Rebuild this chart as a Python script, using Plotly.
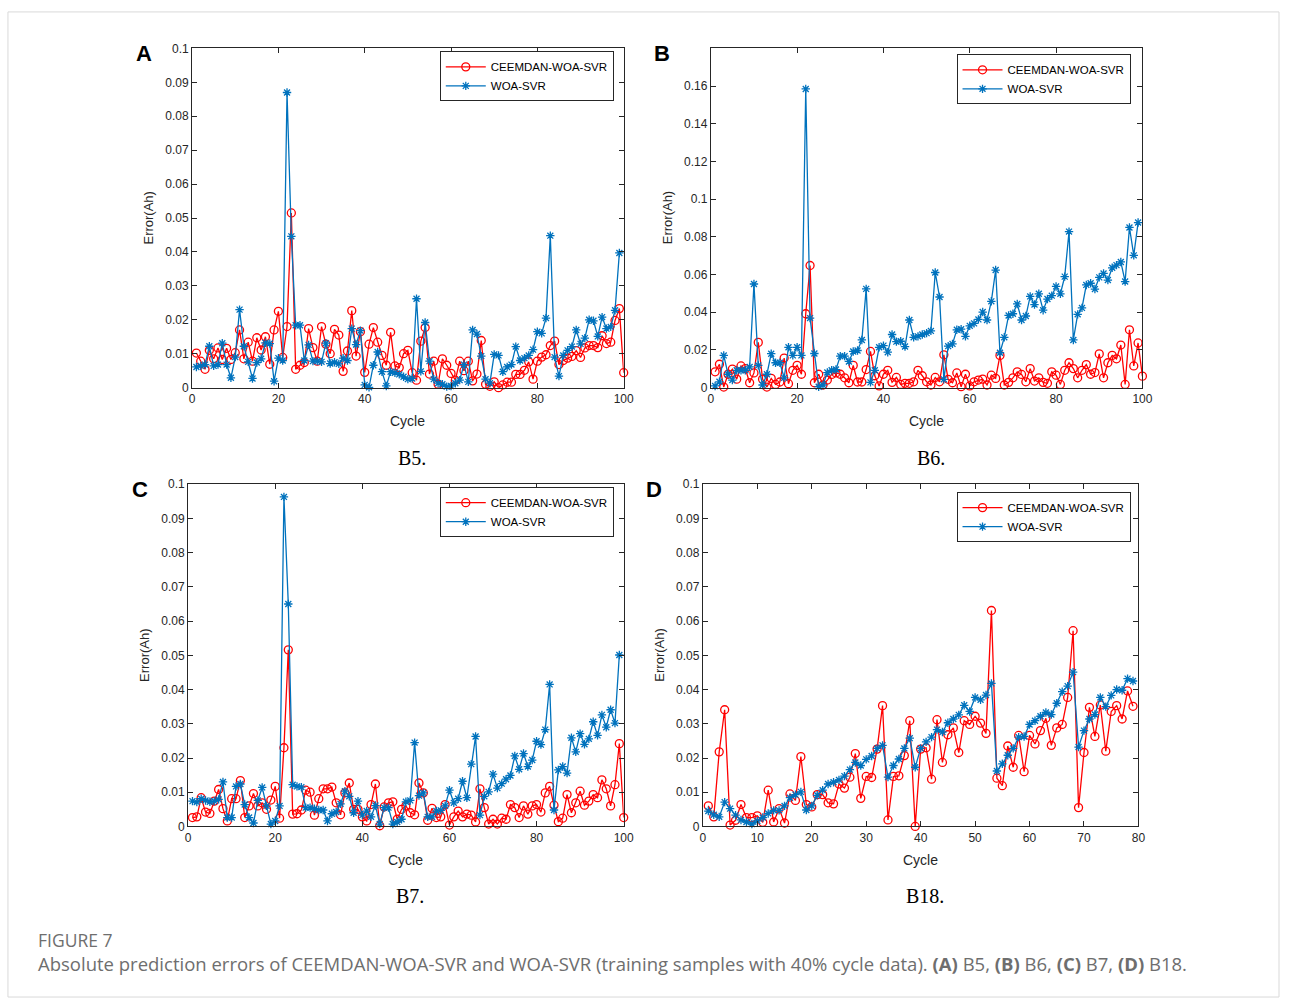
import plotly.graph_objects as go

# ---- B5 ----
b5_ceemdan = [0.0102, 0.0078, 0.0054, 0.0110, 0.0085, 0.0117, 0.0083, 0.0116, 0.0083, 0.0103,
              0.0170, 0.0085, 0.0134, 0.0078, 0.0147, 0.0111, 0.0150, 0.0069, 0.0170, 0.0225,
              0.0089, 0.0180, 0.0515, 0.0054, 0.0066, 0.0074, 0.0174, 0.0118, 0.0078, 0.0180,
              0.0128, 0.0100, 0.0172, 0.0155, 0.0048, 0.0108, 0.0227, 0.0093, 0.0165, 0.0045,
              0.0128, 0.0177, 0.0134, 0.0095, 0.0066, 0.0163, 0.0064, 0.0059, 0.0100, 0.0110,
              0.0044, 0.0022, 0.0137, 0.0177, 0.0040, 0.0078, 0.0010, 0.0085, 0.0066, 0.0042,
              0.0022, 0.0078, 0.0050, 0.0078, 0.0020, 0.0040, 0.0139, 0.0010, 0.0004, 0.0017,
              0.0000, 0.0008, 0.0016, 0.0016, 0.0039, 0.0039, 0.0051, 0.0076, 0.0025, 0.0078,
              0.0090, 0.0097, 0.0124, 0.0137, 0.0068, 0.0080, 0.0087, 0.0092, 0.0109, 0.0089,
              0.0117, 0.0124, 0.0124, 0.0118, 0.0153, 0.0130, 0.0134, 0.0198, 0.0233, 0.0044]
b5_woa = [0.0061, 0.0064, 0.0068, 0.0122, 0.0064, 0.0068, 0.0131, 0.0068, 0.0029, 0.0090,
          0.0230, 0.0122, 0.0076, 0.0027, 0.0074, 0.0085, 0.0132, 0.0130, 0.0019, 0.0087,
          0.0080, 0.0870, 0.0446, 0.0184, 0.0184, 0.0080, 0.0126, 0.0078, 0.0078, 0.0076,
          0.0131, 0.0071, 0.0075, 0.0070, 0.0087, 0.0080, 0.0174, 0.0127, 0.0168, 0.0008,
          0.0001, 0.0066, 0.0105, 0.0047, 0.0005, 0.0047, 0.0044, 0.0039, 0.0032, 0.0025,
          0.0027, 0.0262, 0.0048, 0.0192, 0.0078, 0.0025, 0.0013, 0.0010, 0.0003, 0.0005,
          0.0013, 0.0022, 0.0068, 0.0017, 0.0170, 0.0158, 0.0093, 0.0025, 0.0013, 0.0098,
          0.0095, 0.0047, 0.0061, 0.0068, 0.0121, 0.0080, 0.0087, 0.0095, 0.0112, 0.0165,
          0.0160, 0.0205, 0.0448, 0.0090, 0.0034, 0.0095, 0.0110, 0.0121, 0.0170, 0.0129,
          0.0146, 0.0200, 0.0197, 0.0151, 0.0208, 0.0174, 0.0179, 0.0228, 0.0397]

# ---- B6 ----
b6_ceemdan = [0.0084, 0.0124, 0.0003, 0.0071, 0.0098, 0.0045, 0.0115, 0.0101, 0.0026, 0.0078,
              0.0240, 0.0045, 0.0003, 0.0049, 0.0017, 0.0030, 0.0157, 0.0021, 0.0092, 0.0118,
              0.0071, 0.0392, 0.0648, 0.0026, 0.0071, 0.0014, 0.0040, 0.0070, 0.0078, 0.0071,
              0.0052, 0.0026, 0.0118, 0.0030, 0.0030, 0.0096, 0.0192, 0.0063, 0.0009, 0.0071,
              0.0092, 0.0028, 0.0054, 0.0017, 0.0023, 0.0023, 0.0031, 0.0092, 0.0063, 0.0031,
              0.0014, 0.0054, 0.0031, 0.0174, 0.0044, 0.0026, 0.0078, 0.0005, 0.0071, 0.0009,
              0.0031, 0.0040, 0.0045, 0.0014, 0.0066, 0.0049, 0.0171, 0.0014, 0.0028, 0.0052,
              0.0084, 0.0070, 0.0031, 0.0101, 0.0035, 0.0052, 0.0028, 0.0023, 0.0084, 0.0066,
              0.0017, 0.0092, 0.0132, 0.0101, 0.0052, 0.0092, 0.0122, 0.0071, 0.0080, 0.0179,
              0.0052, 0.0132, 0.0171, 0.0153, 0.0226, 0.0017, 0.0307, 0.0115, 0.0237, 0.0061]
b6_woa = [0.0009, 0.0031, 0.0171, 0.0071, 0.0040, 0.0092, 0.0092, 0.0092, 0.0110, 0.0550,
          0.0118, 0.0014, 0.0071, 0.0180, 0.0132, 0.0132, 0.0052, 0.0214, 0.0171, 0.0214,
          0.0171, 0.1585, 0.0369, 0.0181, 0.0005, 0.0014, 0.0080, 0.0092, 0.0096, 0.0167,
          0.0167, 0.0139, 0.0192, 0.0197, 0.0253, 0.0524, 0.0028, 0.0092, 0.0214, 0.0223,
          0.0188, 0.0282, 0.0244, 0.0246, 0.0218, 0.0359, 0.0267, 0.0272, 0.0282, 0.0289,
          0.0301, 0.0611, 0.0481, 0.0044, 0.0220, 0.0232, 0.0307, 0.0310, 0.0272, 0.0328,
          0.0341, 0.0362, 0.0401, 0.0359, 0.0458, 0.0624, 0.0185, 0.0267, 0.0383, 0.0392,
          0.0444, 0.0359, 0.0380, 0.0484, 0.0441, 0.0498, 0.0411, 0.0470, 0.0488, 0.0537,
          0.0498, 0.0589, 0.0828, 0.0253, 0.0389, 0.0423, 0.0545, 0.0554, 0.0523, 0.0585,
          0.0606, 0.0571, 0.0636, 0.0650, 0.0667, 0.0563, 0.0850, 0.0702, 0.0876]

# ---- B7 ----
b7_ceemdan = [0.0026, 0.0028, 0.0084, 0.0042, 0.0038, 0.0074, 0.0108, 0.0052, 0.0016, 0.0081,
              0.0081, 0.0134, 0.0026, 0.0060, 0.0096, 0.0060, 0.0069, 0.0050, 0.0077, 0.0117,
              0.0024, 0.0230, 0.0516, 0.0036, 0.0037, 0.0048, 0.0106, 0.0100, 0.0033, 0.0081,
              0.0110, 0.0110, 0.0115, 0.0069, 0.0034, 0.0098, 0.0127, 0.0050, 0.0050, 0.0028,
              0.0016, 0.0064, 0.0124, 0.0002, 0.0057, 0.0069, 0.0072, 0.0021, 0.0050, 0.0060,
              0.0040, 0.0034, 0.0127, 0.0098, 0.0018, 0.0053, 0.0026, 0.0028, 0.0064, 0.0004,
              0.0028, 0.0045, 0.0028, 0.0036, 0.0033, 0.0013, 0.0110, 0.0055, 0.0007, 0.0021,
              0.0007, 0.0024, 0.0021, 0.0064, 0.0055, 0.0026, 0.0060, 0.0036, 0.0060, 0.0064,
              0.0042, 0.0098, 0.0117, 0.0062, 0.0014, 0.0024, 0.0093, 0.0040, 0.0069, 0.0103,
              0.0062, 0.0074, 0.0093, 0.0084, 0.0136, 0.0110, 0.0060, 0.0122, 0.0242, 0.0026]
b7_woa = [0.0074, 0.0071, 0.0081, 0.0076, 0.0072, 0.0074, 0.0079, 0.0130, 0.0026, 0.0026,
          0.0117, 0.0124, 0.0064, 0.0026, 0.0010, 0.0076, 0.0114, 0.0060, 0.0007, 0.0016,
          0.0060, 0.0963, 0.0650, 0.0122, 0.0117, 0.0115, 0.0055, 0.0055, 0.0052, 0.0048,
          0.0048, 0.0016, 0.0037, 0.0042, 0.0066, 0.0103, 0.0088, 0.0040, 0.0074, 0.0033,
          0.0045, 0.0028, 0.0061, 0.0007, 0.0055, 0.0055, 0.0007, 0.0013, 0.0021, 0.0072,
          0.0076, 0.0245, 0.0090, 0.0098, 0.0028, 0.0028, 0.0045, 0.0047, 0.0060, 0.0106,
          0.0069, 0.0081, 0.0132, 0.0084, 0.0182, 0.0263, 0.0033, 0.0088, 0.0101, 0.0153,
          0.0112, 0.0125, 0.0138, 0.0149, 0.0206, 0.0167, 0.0213, 0.0175, 0.0194, 0.0249,
          0.0239, 0.0283, 0.0415, 0.0048, 0.0165, 0.0175, 0.0156, 0.0259, 0.0218, 0.0271,
          0.0240, 0.0256, 0.0306, 0.0266, 0.0326, 0.0290, 0.0341, 0.0302, 0.0501]

# ---- B18 ----
b18_ceemdan = [0.0060, 0.0028, 0.0218, 0.0341, 0.0004, 0.0018, 0.0064, 0.0026, 0.0026, 0.0031,
               0.0012, 0.0106, 0.0013, 0.0052, 0.0010, 0.0095, 0.0076, 0.0204, 0.0064, 0.0057,
               0.0093, 0.0093, 0.0069, 0.0066, 0.0124, 0.0112, 0.0144, 0.0213, 0.0082, 0.0146,
               0.0143, 0.0226, 0.0353, 0.0019, 0.0146, 0.0148, 0.0207, 0.0309, 0.0000, 0.0226,
               0.0230, 0.0138, 0.0312, 0.0187, 0.0268, 0.0288, 0.0216, 0.0309, 0.0298, 0.0322,
               0.0302, 0.0272, 0.0631, 0.0141, 0.0119, 0.0235, 0.0173, 0.0266, 0.0160, 0.0266,
               0.0241, 0.0280, 0.0316, 0.0237, 0.0288, 0.0298, 0.0377, 0.0572, 0.0055, 0.0216,
               0.0348, 0.0263, 0.0355, 0.0220, 0.0336, 0.0353, 0.0314, 0.0396, 0.0351]
b18_woa = [0.0045, 0.0034, 0.0028, 0.0071, 0.0052, 0.0033, 0.0019, 0.0013, 0.0007, 0.0016,
           0.0026, 0.0038, 0.0047, 0.0047, 0.0060, 0.0084, 0.0093, 0.0101, 0.0048, 0.0060,
           0.0091, 0.0106, 0.0124, 0.0129, 0.0136, 0.0147, 0.0166, 0.0187, 0.0178, 0.0196,
           0.0206, 0.0228, 0.0237, 0.0144, 0.0178, 0.0197, 0.0228, 0.0258, 0.0173, 0.0228,
           0.0247, 0.0261, 0.0283, 0.0276, 0.0303, 0.0314, 0.0326, 0.0354, 0.0336, 0.0377,
           0.0370, 0.0384, 0.0418, 0.0162, 0.0183, 0.0208, 0.0228, 0.0261, 0.0263, 0.0298,
           0.0309, 0.0322, 0.0333, 0.0327, 0.0360, 0.0394, 0.0410, 0.0451, 0.0232, 0.0280,
           0.0314, 0.0327, 0.0377, 0.0350, 0.0383, 0.0400, 0.0398, 0.0432, 0.0425]

series_names = ["CEEMDAN-WOA-SVR", "WOA-SVR"]
panel_letters = ["A", "B", "C", "D"]
panel_captions = ["B5.", "B6.", "B7.", "B18."]

RED = "#FF0000"
BLUE = "#0072BD"
AX = "#262626"
SANS = "Liberation Sans, Arial, sans-serif"
SERIF = "Liberation Serif, Times New Roman, serif"
CAPTION_FONT = "Open Sans, sans-serif"

W, H = 1290, 1006


def px(x):
    return x / W


def py(y):
    return 1 - y / H


# plot boxes in pixels: (left, top, right, bottom)
boxes = [(191, 42, 627, 386), (715, 42, 1151, 386), (187, 484, 627, 831), (707, 484, 1147, 831)]
xmax = [100, 100, 100, 80]
xstep = [20, 20, 20, 10]
ymax = [0.1, 0.18, 0.1, 0.1]
yticks = [
    [round(0.01 * i, 2) for i in range(11)],
    [round(0.02 * i, 2) for i in range(9)],
    [round(0.01 * i, 2) for i in range(11)],
    [round(0.01 * i, 2) for i in range(11)],
]
data = [(b5_ceemdan, b5_woa), (b6_ceemdan, b6_woa), (b7_ceemdan, b7_woa), (b18_ceemdan, b18_woa)]
# legend anchors (right edge, top edge) in pixels
legend_boxes = [(617, 45), (1139, 48), (617, 487), (1139, 492)]

fig = go.Figure()
layout = dict(
    width=W, height=H, margin=dict(l=0, r=0, t=0, b=0),
    paper_bgcolor="white", plot_bgcolor="white",
    font=dict(family=SANS, color=AX), showlegend=True,
)
annotations = []
shapes = []


def fmt(v):
    s = ("%.2f" % v).rstrip("0").rstrip(".")
    return s if s else "0"


for i in range(4):
    n = "" if i == 0 else str(i + 1)
    xa, ya = "x" + n, "y" + n
    lg = "legend" if i == 0 else "legend" + str(i + 1)
    red_vals, blue_vals = data[i]
    fig.add_trace(go.Scatter(
        x=list(range(1, len(red_vals) + 1)), y=red_vals, name=series_names[0],
        mode="lines+markers", xaxis=xa, yaxis=ya, legend=lg, cliponaxis=False,
        line=dict(color=RED, width=1.3),
        marker=dict(symbol="circle-open", size=8, color=RED, line=dict(width=1.3)),
    ))
    fig.add_trace(go.Scatter(
        x=list(range(1, len(blue_vals) + 1)), y=blue_vals, name=series_names[1],
        mode="lines+markers", xaxis=xa, yaxis=ya, legend=lg, cliponaxis=False,
        line=dict(color=BLUE, width=1.3),
        marker=dict(symbol="asterisk-open", size=7, color=BLUE, line=dict(width=1.3, color=BLUE)),
    ))
    l, t, r, b = boxes[i]
    axis_common = dict(
        showline=True, linecolor=AX, linewidth=1, mirror="ticks", ticks="inside",
        ticklen=5, tickcolor=AX, showgrid=False, zeroline=False,
        tickfont=dict(family=SANS, size=12, color=AX),
    )
    xt = list(range(0, xmax[i] + 1, xstep[i]))
    layout["xaxis" + n] = dict(
        axis_common, domain=[px(l), px(r)], range=[0, xmax[i]], anchor=ya,
        tickvals=xt, ticktext=[str(v) for v in xt],
    )
    layout["yaxis" + n] = dict(
        axis_common, domain=[py(b), py(t)], range=[0, ymax[i]], anchor=xa,
        tickvals=yticks[i], ticktext=[fmt(v) for v in yticks[i]],
    )
    lx, ly = legend_boxes[i]
    layout[lg] = dict(
        x=px(lx), y=py(ly), xanchor="right", yanchor="top",
        bgcolor="white", bordercolor=AX, borderwidth=1,
        font=dict(family=SANS, size=11.5, color="#000000"),
        itemwidth=40, tracegroupgap=0,
    )
    # panel letter
    annotations.append(dict(
        text="<b>%s</b>" % panel_letters[i], x=px(l - 49), y=py(t + 5), xref="paper", yref="paper",
        showarrow=False, font=dict(family=SANS, size=22, color="#000000"),
        xanchor="center", yanchor="middle",
    ))
    # axis titles
    annotations.append(dict(
        text="Error(Ah)", x=px(l - 44), y=py((t + b) / 2), xref="paper", yref="paper",
        showarrow=False, textangle=-90, font=dict(family=SANS, size=13, color=AX),
        xanchor="center", yanchor="middle",
    ))
    annotations.append(dict(
        text="Cycle", x=px((l + r) / 2), y=py(b + 34), xref="paper", yref="paper",
        showarrow=False, font=dict(family=SANS, size=14, color=AX),
        xanchor="center", yanchor="middle",
    ))
    annotations.append(dict(
        text=panel_captions[i], x=px((l + r) / 2 + 4), y=py(b + 71), xref="paper", yref="paper",
        showarrow=False, font=dict(family=SERIF, size=20, color="#000000"),
        xanchor="center", yanchor="middle",
    ))

annotations.append(dict(
    text="FIGURE 7", x=px(33), y=py(946), xref="paper", yref="paper", showarrow=False,
    font=dict(family=CAPTION_FONT, size=17.5, color="#6e6e6e"),
    xanchor="left", yanchor="middle",
))
annotations.append(dict(
    text="Absolute prediction errors of CEEMDAN-WOA-SVR and WOA-SVR (training samples with 40% cycle data). "
         "<b>(A)</b> B5, <b>(B)</b> B6, <b>(C)</b> B7, <b>(D)</b> B18.",
    x=px(33), y=py(970), xref="paper", yref="paper", showarrow=False,
    font=dict(family=CAPTION_FONT, size=18.5, color="#6e6e6e"),
    xanchor="left", yanchor="middle",
))
shapes.append(dict(
    type="rect", xref="paper", yref="paper", x0=px(5), x1=px(1289), y0=py(1004), y1=py(5),
    line=dict(color="#d9d9d9", width=1), fillcolor="rgba(0,0,0,0)", layer="below",
))

layout["annotations"] = annotations
layout["shapes"] = shapes
fig.update_layout(**layout)

# keep the fixed-size figure flush with the page corner
page_js = (
    "document.body.style.margin='0px';"
    "document.body.style.overflow='hidden';"
    "document.documentElement.style.overflow='hidden';"
)
fig.write_html("out.html", post_script=page_js)
